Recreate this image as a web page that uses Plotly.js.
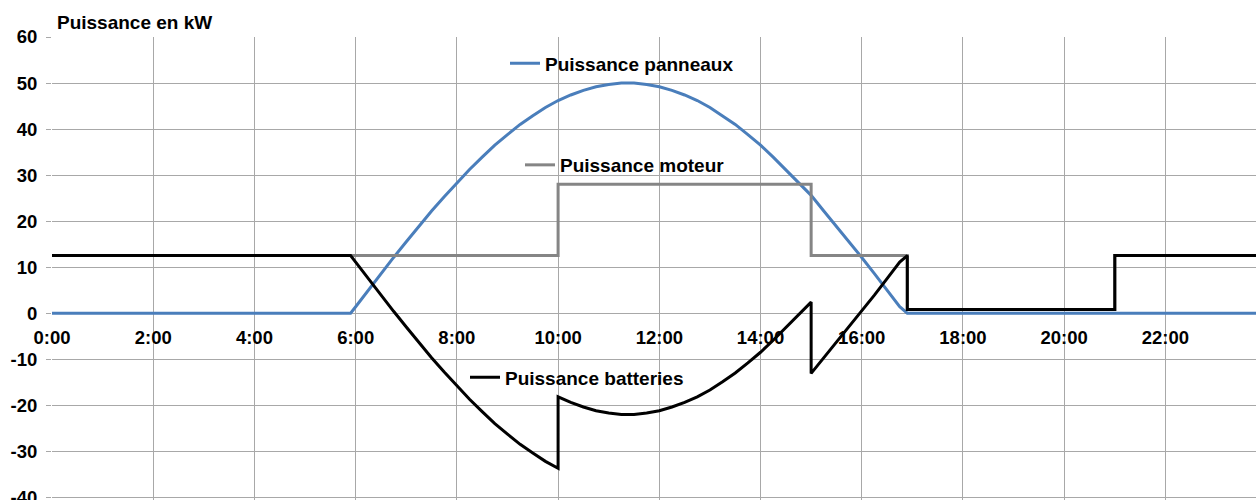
<!DOCTYPE html>
<html>
<head>
<meta charset="utf-8">
<script src="https://cdn.plot.ly/plotly-3.0.1.min.js"></script>
<style>html,body{margin:0;padding:0;background:#fff;}#chart{width:1256px;height:500px;}</style>
</head>
<body>
<div id="chart"></div>
<script>
// Hours of the day (decimal), values in kW
var panneauxT = [0, 5.9, 6, 6.25, 6.5, 6.75, 7, 7.25, 7.5, 7.75, 8, 8.25, 8.5, 8.75, 9, 9.25, 9.5, 9.75, 10, 10.25, 10.5, 10.75, 11, 11.25, 11.5, 11.75, 12, 12.25, 12.5, 12.75, 13, 13.25, 13.5, 13.75, 14, 14.25, 14.5, 14.75, 15, 15.25, 15.5, 15.75, 16, 16.25, 16.5, 16.75, 16.9, 24];
var panneauxP = [0, 0, 1.4, 5.0, 8.6, 12.1, 15.5, 18.9, 22.2, 25.3, 28.3, 31.2, 33.9, 36.5, 38.8, 41.0, 42.9, 44.7, 46.2, 47.4, 48.4, 49.2, 49.7, 50.0, 50.0, 49.7, 49.2, 48.4, 47.4, 46.2, 44.7, 42.9, 41.0, 38.8, 36.5, 33.9, 31.2, 28.3, 25.6, 22.2, 18.9, 15.5, 12.1, 8.6, 5.0, 1.4, 0, 0];

var moteurT = [0, 10, 10, 15, 15, 16.9, 16.9, 21, 21, 24];
var moteurP = [12.5, 12.5, 28, 28, 12.5, 12.5, 0.8, 0.8, 12.5, 12.5];

var batteriesT = [0, 5.9, 6, 6.25, 6.5, 6.75, 7, 7.25, 7.5, 7.75, 8, 8.25, 8.5, 8.75, 9, 9.25, 9.5, 9.75, 10,
                  10, 10.25, 10.5, 10.75, 11, 11.25, 11.5, 11.75, 12, 12.25, 12.5, 12.75, 13, 13.25, 13.5, 13.75, 14, 14.25, 14.5, 14.75, 15,
                  15, 15.25, 15.5, 15.75, 16, 16.25, 16.5, 16.75, 16.9,
                  16.9, 21, 21, 24];
var batteriesP = [12.5, 12.5, 11.1, 7.5, 3.9, 0.4, -3.0, -6.4, -9.7, -12.8, -15.8, -18.7, -21.4, -24.0, -26.3, -28.5, -30.4, -32.2, -33.7,
                  -18.2, -19.4, -20.4, -21.2, -21.7, -22.0, -22.0, -21.7, -21.2, -20.4, -19.4, -18.2, -16.7, -14.9, -13.0, -10.8, -8.5, -5.9, -3.2, -0.3, 2.4,
                  -13.1, -9.7, -6.4, -3.0, 0.4, 3.9, 7.5, 11.1, 12.5,
                  0.8, 0.8, 12.5, 12.5];

var xTickVals = [0, 2, 4, 6, 8, 10, 12, 14, 16, 18, 20, 22];
var xTickText = ["0:00", "2:00", "4:00", "6:00", "8:00", "10:00", "12:00", "14:00", "16:00", "18:00", "20:00", "22:00"];
var yTickVals = [-40, -30, -20, -10, 0, 10, 20, 30, 40, 50, 60];
var yTickText = ["-40", "-30", "-20", "-10", "0", "10", "20", "30", "40", "50", "60"];

var FONT = "Liberation Sans, Arial, sans-serif";

var traces = [
  {x: panneauxT, y: panneauxP, name: "Puissance panneaux", mode: "lines",
   line: {color: "#4a7ebb", width: 3}, legend: "legend"},
  {x: moteurT, y: moteurP, name: "Puissance moteur", mode: "lines",
   line: {color: "#858585", width: 3}, legend: "legend2"},
  {x: batteriesT, y: batteriesP, name: "Puissance batteries", mode: "lines",
   line: {color: "#000000", width: 3}, legend: "legend3"}
];

var legendBase = {bgcolor: "rgba(0,0,0,0)", borderwidth: 0, xanchor: "left", yanchor: "middle",
  font: {family: FONT, size: 19, color: "#000", weight: "bold"}, itemclick: false};

var tickFont = {family: FONT, size: 18.5, color: "#000", weight: "bold"};

// white label backgrounds (drawn between gridlines and traces), pixel boxes converted to paper
function px2x(p) { return (p - 52) / 1204; }
function px2y(p) { return (500 - p) / 463; }
function labelBox(x0, x1, y0, y1) {
  return {type: "rect", xref: "paper", yref: "paper", layer: "between",
          x0: px2x(x0), x1: px2x(x1), y0: px2y(y1), y1: px2y(y0),
          fillcolor: "#ffffff", line: {width: 0}};
}

var layout = {
  width: 1256, height: 500,
  margin: {l: 52, r: 0, t: 37, b: 0},
  paper_bgcolor: "#fff", plot_bgcolor: "#fff",
  font: {family: FONT, size: 16, color: "#000"},
  title: {text: "Puissance en kW", x: 57 / 1256, xref: "container", xanchor: "left",
          y: 1 - 22 / 500, yref: "container", yanchor: "middle",
          font: {family: FONT, size: 19, color: "#000", weight: "bold"}},
  xaxis: {range: [0, 23.79], tickvals: xTickVals, ticktext: xTickText,
          showgrid: true, gridcolor: "#a8a8a8", gridwidth: 1, zeroline: false,
          showline: false, ticks: "", anchor: "free", position: (500 - 313.3) / 463,
          ticklabelstandoff: 11, ticklabeloverflow: "allow",
          tickfont: tickFont},
  yaxis: {range: [-40.6, 60], tickvals: yTickVals, ticktext: yTickText,
          showgrid: true, gridcolor: "#a8a8a8", gridwidth: 1, zeroline: false,
          showline: false, ticks: "outside", ticklen: 5, tickcolor: "#a8a8a8",
          ticklabelstandoff: 5, ticklabeloverflow: "allow",
          tickfont: tickFont},
  shapes: [
    labelBox(505, 740, 51, 77),
    labelBox(517, 733, 150, 177),
    labelBox(463, 690, 362, 392)
  ],
  showlegend: true,
  legend: Object.assign({}, legendBase, {x: (505 - 52) / 1204, y: (500 - 63.5) / 463}),
  legend2: Object.assign({}, legendBase, {x: (520 - 52) / 1204, y: (500 - 165) / 463}),
  legend3: Object.assign({}, legendBase, {x: (465 - 52) / 1204, y: (500 - 377.3) / 463})
};

Plotly.newPlot("chart", traces, layout, {displayModeBar: false, staticPlot: true});
</script>
</body>
</html>
